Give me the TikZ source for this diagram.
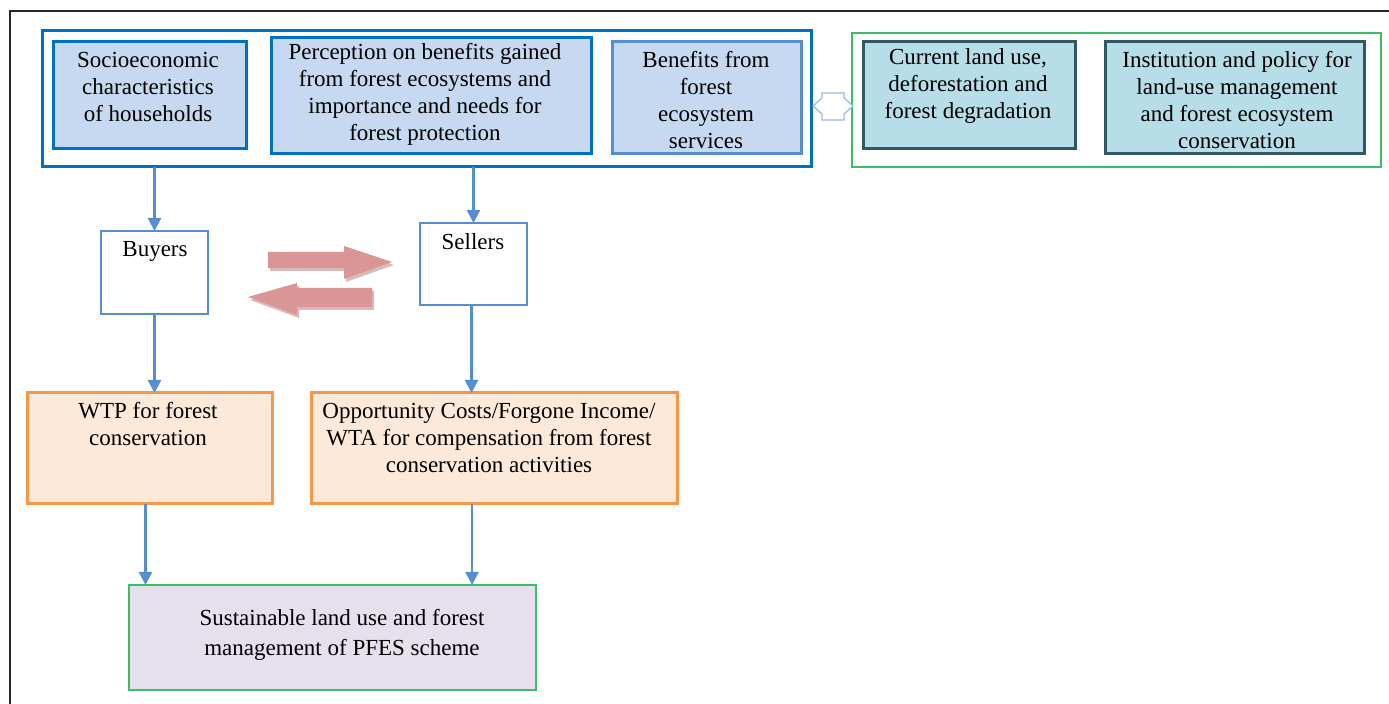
\documentclass[tikz,border=0pt]{standalone}
\usepackage{fontspec}
\setmainfont{Liberation Serif}
\usetikzlibrary{arrows.meta,calc}
\definecolor{grpblue}{RGB}{0,112,192}
\definecolor{fillblue}{RGB}{198,217,241}
\definecolor{midblue}{RGB}{85,142,213}
\definecolor{tealfill}{RGB}{183,221,232}
\definecolor{tealline}{RGB}{49,89,99}
\definecolor{grpgreen}{RGB}{60,190,100}
\definecolor{orline}{RGB}{247,150,70}
\definecolor{orfill}{RGB}{253,233,217}
\definecolor{lavfill}{RGB}{229,224,236}
\definecolor{redarrow}{RGB}{217,150,148}
\definecolor{redshadow}{RGB}{190,140,140}
\definecolor{dblarrow}{RGB}{150,185,230}
\tikzset{
  pxbox/.style={draw, anchor=north west, inner sep=0pt, outer sep=0pt},
  grpa/.style={pxbox, draw=grpblue, line width=1.5pt},
  bluebox/.style={pxbox, draw=grpblue, fill=fillblue, line width=1.5pt},
  benebox/.style={pxbox, draw=midblue, fill=fillblue, line width=1.5pt},
  grpb/.style={pxbox, draw=grpgreen, line width=1pt},
  tealbox/.style={pxbox, draw=tealline, fill=tealfill, line width=1.5pt},
  whitebox/.style={pxbox, draw=midblue, fill=white, line width=1.25pt},
  orbox/.style={pxbox, draw=orline, fill=orfill, line width=1.5pt},
  lavbox/.style={pxbox, draw=grpgreen, fill=lavfill, line width=1pt},
  txt/.style={align=center, inner sep=0pt, font=\fontsize{11.5}{13.5}\selectfont},
  conn/.style={draw=midblue, line width=1.25pt, -{Triangle[width=6.5pt,length=6.5pt]}},
  blockarrow/.style={fill=redarrow, draw=none},
  blockshadow/.style={fill=redshadow, draw=none, opacity=0.6},
}
\begin{document}
\begin{tikzpicture}[x=0.5pt,y=-0.5pt]
\useasboundingbox (0,0) rectangle (1389,704);
% outer frame
\draw[line width=1pt, black!85] (1389,11) -- (10,11) -- (10,704);

% top blue group
\node[grpa, minimum width=384.5pt, minimum height=68pt] (grpA) at (42,31) {};
\node[bluebox, minimum width=96.5pt, minimum height=53.5pt] (socio) at (53,42) {};
\node[bluebox, minimum width=160pt, minimum height=58pt] (perc) at (271,38) {};
\node[benebox, minimum width=94.5pt, minimum height=56pt] (bene) at (612,42) {};
\node[txt] (sociot) at (148,87) {Socioeconomic\\characteristics\\of households};
\node[txt] (perct) at (425,94.5) {Perception on benefits gained\\from forest ecosystems and\\importance and needs for\\forest protection};
\node[txt] (benet) at (706,100) {Benefits from\\forest\\ecosystem\\services};

% top green group
\node[grpb, minimum width=264.5pt, minimum height=67pt] (grpB) at (852,33) {};
\node[tealbox, minimum width=106pt, minimum height=53.5pt] (cur) at (863,42) {};
\node[tealbox, minimum width=129.5pt, minimum height=56pt] (inst) at (1105,42) {};
\node[txt] (curt) at (968,86.5) {Current land use,\\deforestation and\\forest degradation};
\node[txt] (instt) at (1237,100) {Institution and policy for\\land-use management\\and forest ecosystem\\conservation};

% small double arrow between groups
\draw[dblarrow, line width=0.6pt, fill=white]
  (813,106) -- (822,98) -- (822,93) -- (844,93) -- (844,98) -- (853,106)
  -- (844,114) -- (844,120) -- (822,120) -- (822,114) -- cycle;

% buyers / sellers
\node[whitebox, minimum width=53.5pt, minimum height=41.5pt] (buyers) at (101,231) {};
\node[whitebox, minimum width=53.5pt, minimum height=41pt] (sellers) at (420,223) {};
\node[txt] (buyerst) at (155,251) {Buyers};
\node[txt] (sellerst) at (473,242) {Sellers};

% red block arrows (shadow then arrow)
\fill[blockshadow] (270,255) -- (346,255) -- (346,249) -- (394,265) -- (346,282) -- (346,271) -- (270,271) -- cycle;
\fill[blockarrow] (268,252) -- (344,252) -- (344,246) -- (392,262) -- (344,279) -- (344,268) -- (268,268) -- cycle;
\fill[blockshadow] (374,291) -- (299,291) -- (299,286) -- (250,300) -- (299,318) -- (299,310) -- (374,310) -- cycle;
\fill[blockarrow] (372,288) -- (297,288) -- (297,283) -- (248,297) -- (297,315) -- (297,307) -- (372,307) -- cycle;

% orange boxes
\node[orbox, minimum width=122.5pt, minimum height=55.5pt] (wtp) at (27,393) {};
\node[orbox, minimum width=183pt, minimum height=55.5pt] (opp) at (311,393) {};
\node[txt] (wtpt) at (148,424.5) {WTP for forest\\conservation};
\node[txt] (oppt) at (489,438) {Opportunity Costs/Forgone Income/\\WTA for compensation from forest\\conservation activities};

% bottom box
\node[lavbox, minimum width=203.5pt, minimum height=52.5pt] (sust) at (129,585) {};
\node[txt, font=\fontsize{11.5}{15}\selectfont] (sustt) at (342,635) {Sustainable land use and forest\\management of PFES scheme};

% connectors
\draw[conn] (buyers.north |- grpA.south) -- (buyers.north);
\draw[conn] (sellers.north |- grpA.south) -- (sellers.north);
\draw[conn] (buyers.south) -- (buyers.south |- wtp.north);
\draw[conn] ([xshift=-1pt]sellers.south) -- ([xshift=-1pt]sellers.south |- opp.north);
\draw[conn] ([xshift=-2pt]wtp.south) -- ([xshift=-2pt]wtp.south |- sust.north);
\coordinate (oppout) at ($(opp.south west)!0.44!(opp.south east)$);
\draw[conn] (oppout) -- (oppout |- sust.north);
\end{tikzpicture}
\end{document}
